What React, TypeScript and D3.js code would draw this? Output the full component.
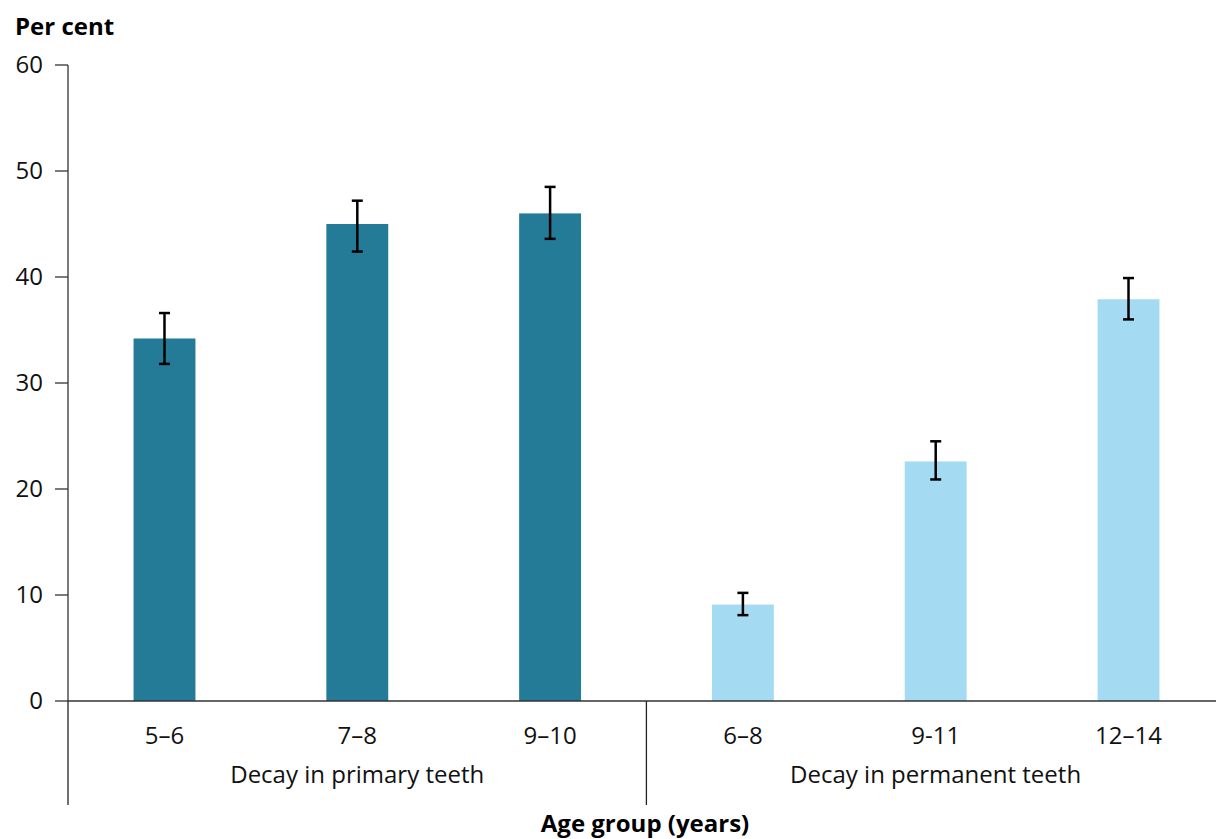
import React from "react";
import * as d3 from "d3";

const categories = ["5–6", "7–8", "9–10", "6–8", "9-11", "12–14"];
const groupOf = [0, 0, 0, 1, 1, 1];
const groups = ["Decay in primary teeth", "Decay in permanent teeth"];
const values = [34.2, 45.0, 46.0, 9.1, 22.6, 37.9];
const lower = [31.8, 42.4, 43.6, 8.1, 20.9, 36.0];
const upper = [36.6, 47.2, 48.5, 10.2, 24.5, 39.9];
const yTicks = [0, 10, 20, 30, 40, 50, 60];
const groupColors = ["#237b97", "#a4dbf2"];

export default function App() {
  const W = 1216, H = 839;
  const left = 68, right = 1225, top = 65, bottom = 701;
  const x = d3.scaleBand<number>().domain(d3.range(categories.length)).range([left, right]).paddingInner(0.679).paddingOuter(0.34);
  const y = d3.scaleLinear().domain([0, 60]).range([bottom, top]);
  const step = x.step();
  const font = "'Open Sans', 'Noto Sans', sans-serif";
  const sepXs = [left, left + 3 * step];
  const groupCenters = [left + 1.5 * step, left + 4.5 * step];
  return (
    <svg width={W} height={H} style={{ position: "absolute", left: 0, top: 0, display: "block" }} fontFamily={font}>
      <rect width={W} height={H} fill="#fff" />
      <text x={15} y={35} fontSize={24} fontWeight={700} fill="#000">Per cent</text>
      {yTicks.map((t) => (
        <g key={t}>
          <line x1={55} x2={left} y1={y(t)} y2={y(t)} stroke="#333" strokeWidth={1.3} />
          <text x={43} y={y(t)} dy="0.35em" textAnchor="end" fontSize={24} fill="#111">{t}</text>
        </g>
      ))}
      <line x1={left} x2={left} y1={top} y2={bottom} stroke="#333" strokeWidth={1.3} />
      {values.map((v, i) => (
        <rect key={i} x={x(i)} y={y(v)} width={x.bandwidth()} height={bottom - y(v)} fill={groupColors[groupOf[i]]} />
      ))}
      {values.map((v, i) => {
        const cx = (x(i) as number) + x.bandwidth() / 2;
        return (
          <g key={"e" + i} stroke="#000" strokeWidth={2.5}>
            <line x1={cx} x2={cx} y1={y(upper[i])} y2={y(lower[i])} />
            <line x1={cx - 5.5} x2={cx + 5.5} y1={y(upper[i])} y2={y(upper[i])} />
            <line x1={cx - 5.5} x2={cx + 5.5} y1={y(lower[i])} y2={y(lower[i])} />
          </g>
        );
      })}
      <line x1={left} x2={W} y1={bottom} y2={bottom} stroke="#333" strokeWidth={1.5} />
      {sepXs.map((sx, i) => (
        <line key={"s" + i} x1={sx} x2={sx} y1={bottom} y2={805} stroke="#222" strokeWidth={1.3} />
      ))}
      {categories.map((c, i) => (
        <text key={"c" + i} x={(x(i) as number) + x.bandwidth() / 2} y={744} textAnchor="middle" fontSize={24} fill="#111">{c}</text>
      ))}
      {groups.map((g, i) => (
        <text key={"g" + i} x={groupCenters[i]} y={783} textAnchor="middle" fontSize={24} fill="#111">{g}</text>
      ))}
      <text x={645} y={832} textAnchor="middle" fontSize={24} fontWeight={700} fill="#000">Age group (years)</text>
    </svg>
  );
}
